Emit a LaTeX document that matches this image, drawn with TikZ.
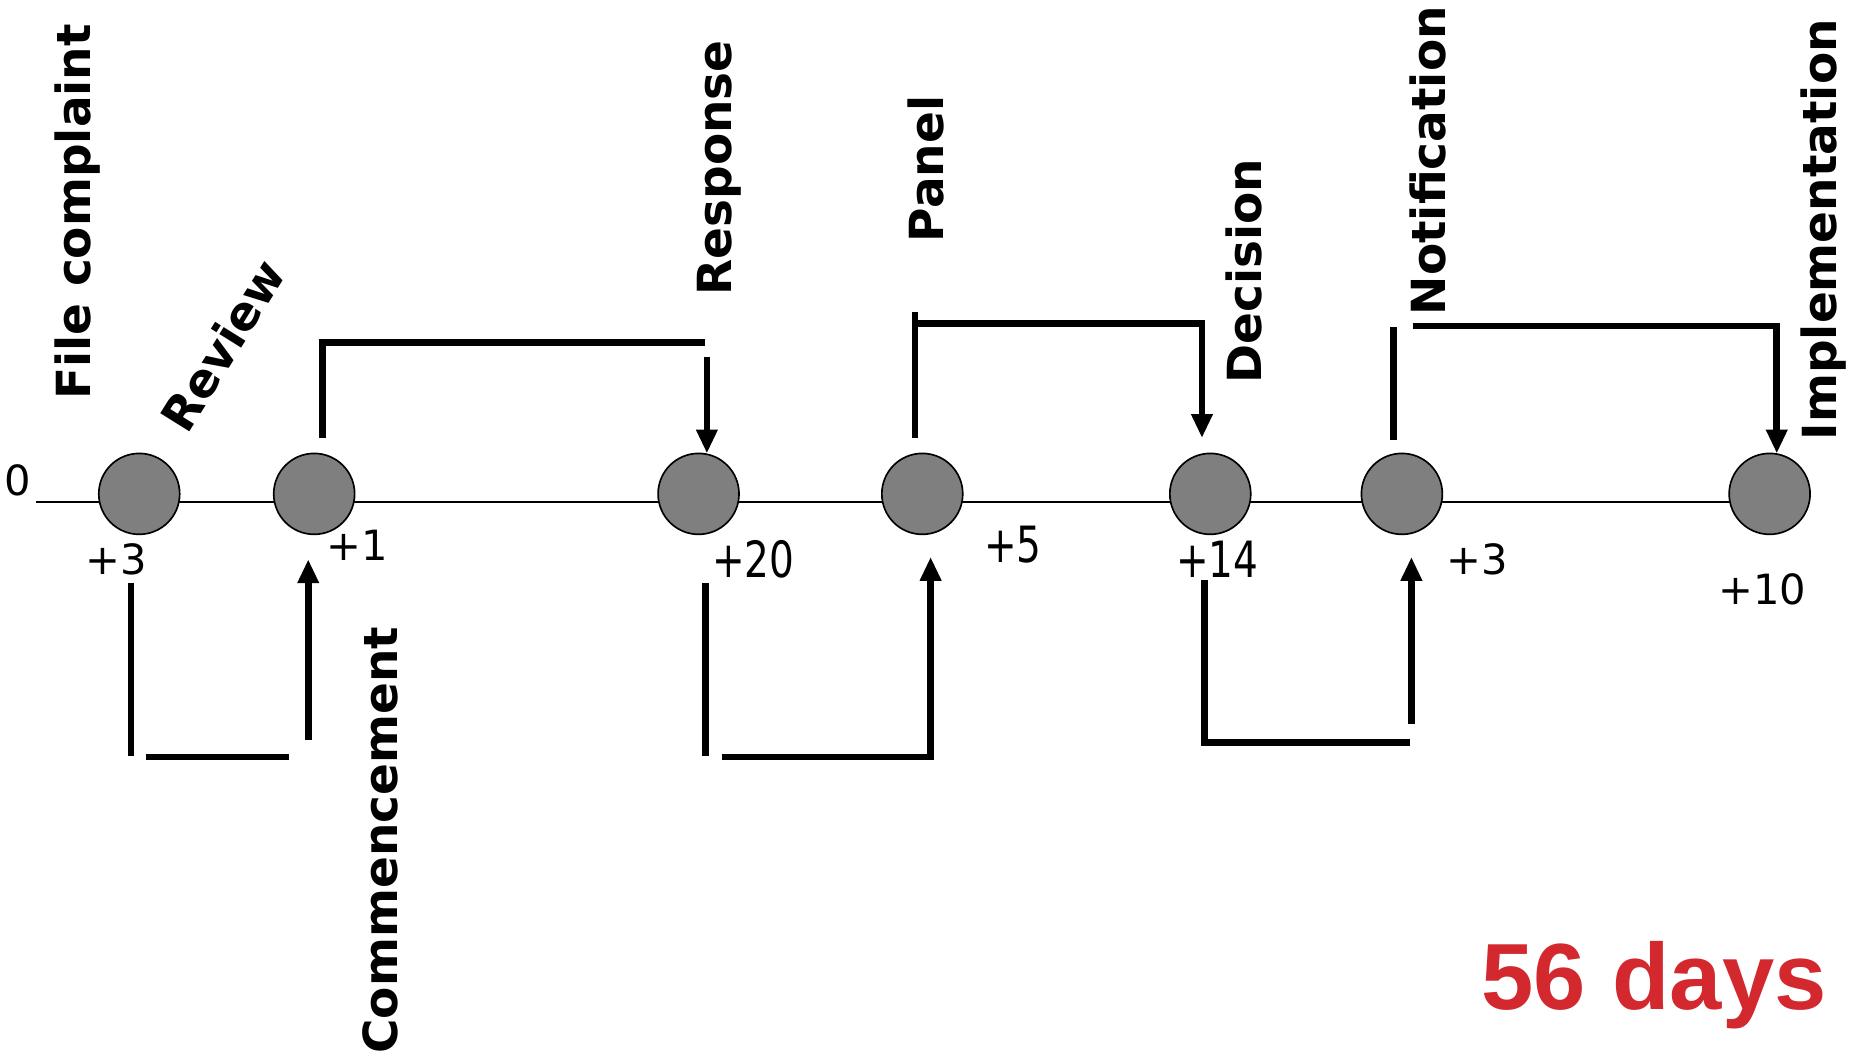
\documentclass[tikz,border=0pt]{standalone}
\usepackage{fontspec}
\setmainfont{DejaVu Sans}
\newfontfamily\redfont{Liberation Sans}
\usetikzlibrary{arrows.meta,calc}
\definecolor{dotgray}{HTML}{7F7F7F}
\definecolor{totalred}{HTML}{D2282E}
\begin{document}
\begin{tikzpicture}[x=1pt,y=-1pt,
  stage/.style={circle,draw=black,line width=1.4pt,fill=dotgray,minimum size=68pt,inner sep=0pt},
  steplabel/.style={font=\fontsize{39.5}{40}\selectfont\bfseries,inner sep=0pt,rotate=90},
  daylabel/.style={font=\fontsize{35}{36}\selectfont,inner sep=0pt},
  narrowday/.style={font=\fontsize{42}{44}\selectfont,inner sep=0pt,xscale=0.78},
  conn/.style={line width=5.5pt},
  arr/.style={line width=5.5pt,-{Triangle[length=20pt,width=17pt]}}]
\useasboundingbox (0,0) rectangle (1568,889);
% timeline
\coordinate (lstart) at (30,422);
\coordinate (lend) at (1487,422);
\draw[line width=1.3pt] (lstart) -- (lend);
% stages
\node[stage] (c1) at (117,415) {};
\node[stage] (c2) at (264,415) {};
\node[stage] (c3) at (587,415) {};
\node[stage] (c4) at (775,415) {};
\node[stage] (c5) at (1017,415) {};
\node[stage] (c6) at (1178,415) {};
\node[stage] (c7) at (1487,415) {};
% step labels
\node[steplabel] (lfile) at (65,178) {File complaint};
\node[steplabel,rotate=-32] (lrev) at (187,290) {Review};
\node[steplabel] (lcom) at (320,706) {Commencement};
\node[steplabel] (lresp) at (604,141) {Response};
\node[steplabel] (lpan) at (778,142) {Panel};
\node[steplabel] (ldec) at (1045,228) {Decision};
\node[steplabel] (lnot) at (1200,135) {Notification};
\node[steplabel] (limp) at (1532,193) {Implementation};
% day labels
\node[daylabel] (d0) at (15,404) {0};
\node[daylabel] (d1) at (98,470) {+3};
\node[daylabel] (d2) at (300,458) {+1};
\node[narrowday] (d3) at (633,470) {+20};
\node[narrowday] (d4) at (851,458) {+5};
\node[narrowday] (d5) at (1023,470) {+14};
\node[daylabel] (d6) at (1241,470) {+3};
\node[daylabel] (d7) at (1481,495) {+10};
% bracket 1 (below, c1 -> c2)
\draw[conn] ($(c1)+(-7,75)$) -- ($(c1)+(-7,220)$);
\draw[conn] ($(c1)+(6,221)$) -- ($(c2)+(-21,221)$);
\draw[arr] ($(c2)+(-5,207)$) -- ($(c2)+(-5,55)$);
% bracket 2 (above, c2 -> c3)
\draw[conn] ($(c2)+(7,-47)$) -- ($(c2)+(7,-127)$) -- ($(c3)+(5,-127)$);
\draw[arr] ($(c3)+(7,-115)$) -- ($(c3)+(7,-34)$);
% bracket 3 (below, c3 -> c4)
\draw[conn] ($(c3)+(6,75)$) -- ($(c3)+(6,220)$);
\draw[arr] ($(c3)+(20,221)$) -- ($(c4)+(7,221)$) -- ($(c4)+(7,53)$);
% bracket 4 (above, c4 -> c5)
\draw[conn] ($(c4)+(-6,-47)$) -- ($(c4)+(-6,-153)$);
\draw[arr] ($(c4)+(-6,-143)$) -- ($(c5)+(-7,-143)$) -- ($(c5)+(-7,-47)$);
% bracket 5 (below, c5 -> c6)
\draw[conn] ($(c5)+(-5,72)$) -- ($(c5)+(-5,209)$) -- ($(c6)+(7,209)$);
\draw[arr] ($(c6)+(8,193)$) -- ($(c6)+(8,53)$);
% bracket 6 (above, c6 -> c7)
\draw[conn] ($(c6)+(-7,-45)$) -- ($(c6)+(-7,-140)$);
\draw[arr] ($(c6)+(9,-141)$) -- ($(c7)+(6,-141)$) -- ($(c7)+(6,-34)$);
% total
\node[font=\redfont\fontsize{79}{80}\selectfont\bfseries,text=totalred,inner sep=0pt] (total) at (1390,828) {56 days};
\end{tikzpicture}
\end{document}
